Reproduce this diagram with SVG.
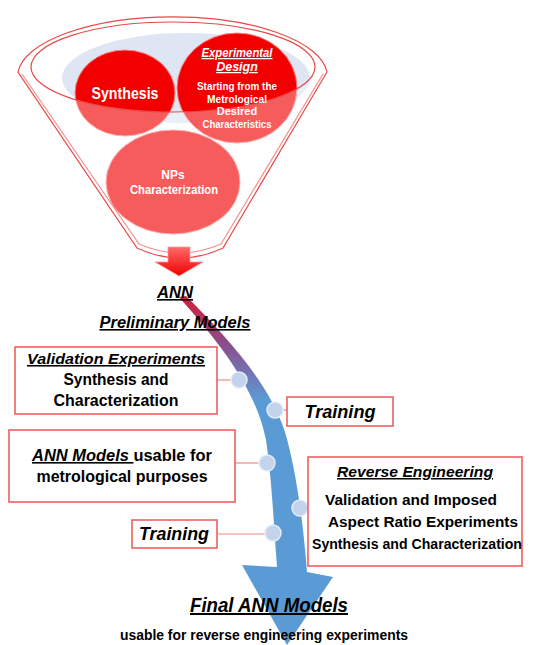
<svg xmlns="http://www.w3.org/2000/svg" width="534" height="645" viewBox="0 0 534 645">
<style>
.box{fill:#fff;stroke:#ef5f5f;stroke-width:1.6}
.t{font-family:"Liberation Sans",Arial,sans-serif;font-weight:bold;fill:#000}
.it{font-style:italic}
.u{text-decoration:underline}
.w{fill:#fff}
.con{stroke:#f08a8a;stroke-width:1.2;fill:none}
.dot{fill:#c3d3ec;stroke:#e4ecf7;stroke-width:1.5}
.fun{fill:none;stroke:#e84848;stroke-width:1.2}
</style>
<defs>
<linearGradient id="ag" gradientUnits="userSpaceOnUse" x1="0" y1="297" x2="0" y2="400">
<stop offset="0" stop-color="#d0203a"/>
<stop offset="0.45" stop-color="#8c4c8c"/>
<stop offset="1" stop-color="#5b9bd5"/>
</linearGradient>
<linearGradient id="rg" x1="0" y1="0" x2="0" y2="1">
<stop offset="0" stop-color="#ff6a6a"/>
<stop offset="1" stop-color="#ee0000"/>
</linearGradient>
</defs>

<g id="funnel">
<ellipse cx="186" cy="78" rx="124" ry="45" fill="#dde6f2"/>
<ellipse cx="125" cy="93" rx="50" ry="43" fill="#f20000" stroke="#ff8080" stroke-width="1"/>
<ellipse cx="237" cy="88" rx="60" ry="55" fill="#f20000" stroke="#ff8080" stroke-width="1"/>
<ellipse cx="173" cy="182" rx="67" ry="52" fill="#f20000" stroke="#ff8080" stroke-width="1"/>
<path d="M18,72 A155,60 0 0 1 327,72 L223,248 Q180,268 137,248 Z M31,67 A142,45 0 0 0 315,67 A142,45 0 0 0 31,67 Z" fill="#fff" fill-opacity="0.36" fill-rule="evenodd"/>
<path class="fun" d="M18,72 A155,60 0 0 1 327,72 L223,248 Q180,268 137,248 Z"/>
<path class="fun" d="M22,74 L139,244 Q180,262 221,244 L323,74" stroke-opacity="0.6"/>
<ellipse class="fun" cx="173" cy="67" rx="142" ry="45"/>
<text class="t w" x="125" y="99" font-size="17" text-anchor="middle" textLength="67" lengthAdjust="spacingAndGlyphs">Synthesis</text>
<text class="t w it u" x="237" y="57" font-size="12.5" text-anchor="middle" textLength="71" lengthAdjust="spacingAndGlyphs">Experimental</text>
<text class="t w it u" x="237" y="71" font-size="12.5" text-anchor="middle">Design</text>
<text class="t w" x="237" y="90" font-size="11" text-anchor="middle" textLength="80" lengthAdjust="spacingAndGlyphs">Starting from the</text>
<text class="t w" x="237" y="103" font-size="11" text-anchor="middle" textLength="60" lengthAdjust="spacingAndGlyphs">Metrological</text>
<text class="t w" x="237" y="115" font-size="11" text-anchor="middle">Desired</text>
<text class="t w" x="237" y="128" font-size="11" text-anchor="middle" textLength="69" lengthAdjust="spacingAndGlyphs">Characteristics</text>
<text class="t w" x="173" y="179" font-size="12" text-anchor="middle">NPs</text>
<text class="t w" x="174" y="194" font-size="12" text-anchor="middle" textLength="88" lengthAdjust="spacingAndGlyphs">Characterization</text>
<path d="M168,247 H190 V262 H203 L179,276 L155,262 H168 Z" fill="url(#rg)" stroke="#ff9a9a" stroke-width="0.8"/>
</g>

<g id="connectors">
<path d="M179,297 C215,338 255,385 266,440 C272,480 274,530 277,567 L242,565 L287,645 L333,577 L307,572 C303,520 296,470 285,432 C270,385 230,340 186,296 Z" fill="url(#ag)"/>
<line class="con" x1="217" y1="380" x2="239" y2="380"/>
<line class="con" x1="275" y1="410" x2="287" y2="410"/>
<line class="con" x1="235" y1="463" x2="267" y2="463"/>
<line class="con" x1="300" y1="508" x2="308" y2="508"/>
<line class="con" x1="217" y1="534" x2="273" y2="534"/>
<circle class="dot" cx="239" cy="380" r="8"/>
<circle class="dot" cx="275" cy="410" r="8"/>
<circle class="dot" cx="267" cy="463" r="8"/>
<circle class="dot" cx="300" cy="508" r="8"/>
<circle class="dot" cx="273" cy="533" r="8"/>
</g>

<g id="ann-preliminary">
<text class="t it u" x="175" y="298" font-size="16" text-anchor="middle" textLength="36" lengthAdjust="spacingAndGlyphs">ANN</text>
<text class="t it u" x="175" y="328" font-size="16" text-anchor="middle" textLength="151" lengthAdjust="spacingAndGlyphs">Preliminary Models</text>
</g>

<g id="validation">
<rect class="box" x="15" y="347" width="202" height="67"/>
<text class="t it u" x="116" y="364" font-size="15.5" text-anchor="middle" textLength="178" lengthAdjust="spacingAndGlyphs">Validation  Experiments</text>
<text class="t" x="116" y="385" font-size="16" text-anchor="middle" textLength="105" lengthAdjust="spacingAndGlyphs">Synthesis and</text>
<text class="t" x="116" y="406" font-size="16" text-anchor="middle" textLength="125" lengthAdjust="spacingAndGlyphs">Characterization</text>
</g>

<g id="training1">
<rect class="box" x="287" y="397" width="106" height="29"/>
<text class="t it" x="340" y="418" font-size="18" text-anchor="middle" textLength="71" lengthAdjust="spacingAndGlyphs">Training</text>
</g>

<g id="ann-models">
<rect class="box" x="9" y="430" width="226" height="72"/>
<text class="t" x="122" y="461" font-size="16" text-anchor="middle" textLength="180" lengthAdjust="spacingAndGlyphs"><tspan class="it u">ANN Models </tspan>usable for</text>
<text class="t" x="122" y="482" font-size="16" text-anchor="middle" textLength="171" lengthAdjust="spacingAndGlyphs">metrological purposes</text>
</g>

<g id="reverse">
<rect class="box" x="308" y="457" width="214" height="109"/>
<text class="t it u" x="415" y="477" font-size="15" text-anchor="middle" textLength="156" lengthAdjust="spacingAndGlyphs">Reverse Engineering</text>
<text class="t" x="411" y="505" font-size="14" text-anchor="middle" textLength="172" lengthAdjust="spacingAndGlyphs">Validation and Imposed</text>
<text class="t" x="423" y="527" font-size="14" text-anchor="middle" textLength="190" lengthAdjust="spacingAndGlyphs">Aspect Ratio Experiments</text>
<text class="t" x="417" y="549" font-size="14" text-anchor="middle" textLength="210" lengthAdjust="spacingAndGlyphs">Synthesis and Characterization</text>
</g>

<g id="training2">
<rect class="box" x="132" y="520" width="85" height="28"/>
<text class="t it" x="174" y="540" font-size="18" text-anchor="middle" textLength="70" lengthAdjust="spacingAndGlyphs">Training</text>
</g>

<g id="final">
<text class="t it u" x="269" y="612" font-size="20" text-anchor="middle" textLength="158" lengthAdjust="spacingAndGlyphs">Final ANN Models</text>
<text class="t" x="264" y="640" font-size="14" text-anchor="middle" textLength="288" lengthAdjust="spacingAndGlyphs">usable for reverse engineering experiments</text>
</g>
</svg>
